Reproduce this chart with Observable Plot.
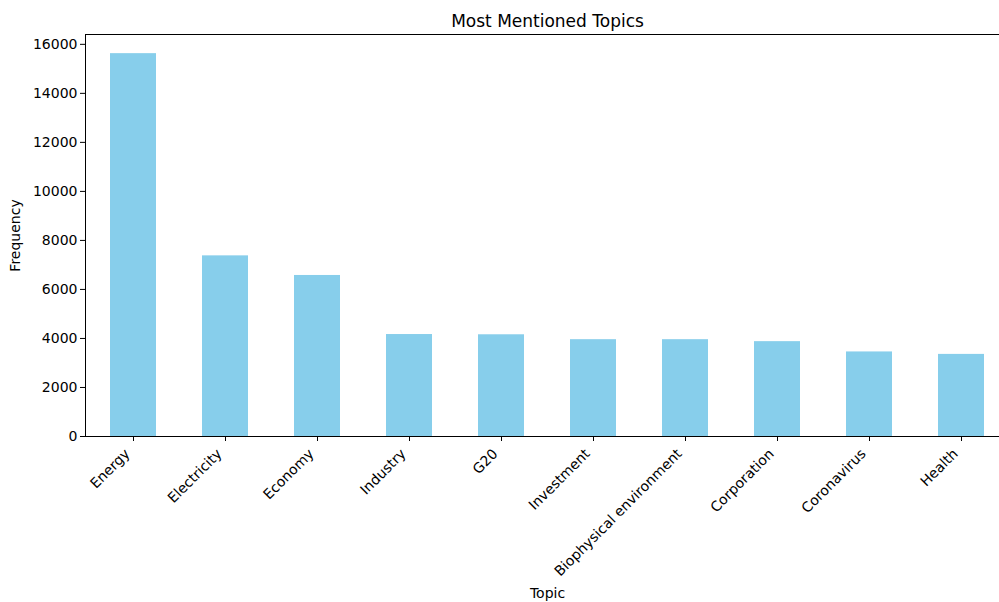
<!DOCTYPE html>
<html>
<head>
<meta charset="utf-8">
<script src="https://cdn.jsdelivr.net/npm/d3@7"></script>
<script src="https://cdn.jsdelivr.net/npm/@observablehq/plot@0.6"></script>
<style>
  html, body { margin: 0; padding: 0; background: #fff; overflow: hidden; }
  #chart { width: 999px; height: 602px; overflow: hidden; }
  #chart svg { display: block; max-width: none !important; }
</style>
</head>
<body>
<div id="chart"></div>
<script>
const topics = ["Energy", "Electricity", "Economy", "Industry", "G20", "Investment", "Biophysical environment", "Corporation", "Coronavirus", "Health"];
const frequencies = [15620, 7370, 6570, 4160, 4150, 3950, 3950, 3870, 3450, 3350];
const yTicks = [0, 2000, 4000, 6000, 8000, 10000, 12000, 14000, 16000];
const title = "Most Mentioned Topics";

const data = topics.map((t, i) => ({topic: t, value: frequencies[i]}));

const chart = Plot.plot({
  width: 1009,
  height: 602,
  marginLeft: 85,
  marginRight: 0,
  marginTop: 34,
  marginBottom: 166,
  style: {fontFamily: "DejaVu Sans", fontSize: "14px", color: "#000", background: "#fff", overflow: "hidden"},
  x: {domain: topics, paddingInner: 0.5, paddingOuter: 0.25, align: 0.5},
  y: {domain: [0, 16401]},
  marks: [
    Plot.barY(data, {x: "topic", y: "value", fill: "#87CEEB"}),
    Plot.axisX({tickSize: 5, tickFormat: () => "", label: null}),
    Plot.axisX({tickRotate: -45, tickSize: 0, tickPadding: 8, dx: -6, dy: 7, label: null, fontSize: 14}),
    Plot.axisX({ticks: [], tickSize: 0, label: "Topic", labelAnchor: "center", labelArrow: "none", labelOffset: 161, fontSize: 14}),
    Plot.axisY({ticks: yTicks, tickFormat: d => String(d), tickSize: 5, tickPadding: 3, label: "Frequency", labelAnchor: "center", labelArrow: "none", labelOffset: 75, fontSize: 14}),
    Plot.frame({stroke: "#000", strokeWidth: 1}),
    Plot.text([title], {text: d => d, x: () => topics[4], dx: 46, frameAnchor: "top", dy: -20, fontSize: 17})
  ]
});
document.getElementById("chart").appendChild(chart);
</script>
</body>
</html>
